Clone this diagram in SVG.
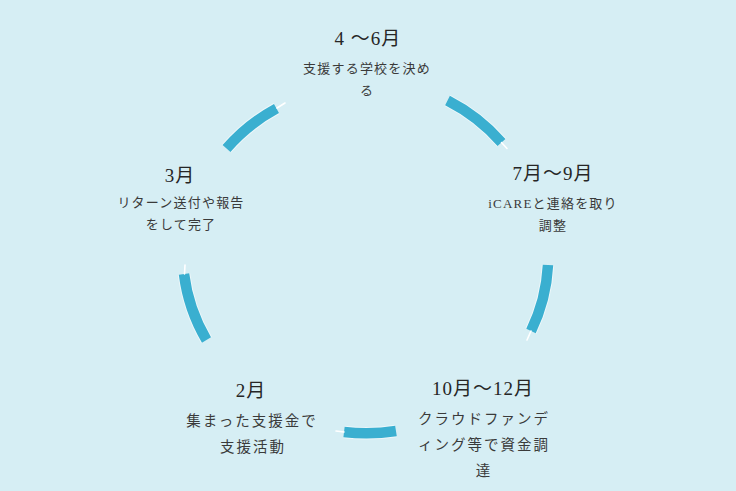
<svg xmlns="http://www.w3.org/2000/svg" width="736" height="491" viewBox="0 0 736 491">
  <style>
    .bg { fill: #D6EEF4; }
    .title { font-family: "Liberation Serif", "Noto Sans CJK JP", serif; font-size: 19px; fill: #262626; text-anchor: middle; letter-spacing: 1px; }
    .sub { font-family: "Liberation Serif", "Noto Sans CJK JP", serif; font-size: 13px; fill: #3a3a3a; text-anchor: middle; letter-spacing: 1.2px; }
    .subL { font-family: "Liberation Serif", "Noto Sans CJK JP", serif; font-size: 14.5px; fill: #3a3a3a; text-anchor: middle; letter-spacing: 2px; }
    .halo { fill: none; stroke: #FFFFFF; stroke-opacity: 0.55; stroke-width: 12.5; }
    .arc { fill: none; stroke: #3AAFD0; stroke-width: 10.5; stroke-linecap: butt; }
    .tick { fill: none; stroke: #FFFFFF; stroke-width: 1.6; stroke-linecap: round; }
  </style>
  <rect class="bg" x="0" y="0" width="736" height="491"/>

  <g id="connectors">
    <g id="c-3-to-4">
      <path class="halo" d="M226.5,148.5 A182,176 0 0 1 276.5,108.5"/>
      <path class="arc" d="M226.5,148.5 A182,176 0 0 1 276.5,108.5"/>
      <line class="tick" x1="277" y1="108" x2="285" y2="103"/>
    </g>
    <g id="c-4-to-7">
      <path class="halo" d="M447.5,100.5 A182,176 0 0 1 501.5,142.5"/>
      <path class="arc" d="M447.5,100.5 A182,176 0 0 1 501.5,142.5"/>
      <line class="tick" x1="501.5" y1="142.5" x2="507" y2="148.5"/>
    </g>
    <g id="c-7-to-10">
      <path class="halo" d="M548,265 A182,176 0 0 1 531,331"/>
      <path class="arc" d="M548,265 A182,176 0 0 1 531,331"/>
      <line class="tick" x1="531" y1="331" x2="527" y2="340"/>
    </g>
    <g id="c-10-to-2">
      <path class="halo" d="M396,431 A182,176 0 0 1 344,432"/>
      <path class="arc" d="M396,431 A182,176 0 0 1 344,432"/>
      <line class="tick" x1="344" y1="432" x2="336" y2="431"/>
    </g>
    <g id="c-2-to-3">
      <path class="halo" d="M206.5,340 A182,176 0 0 1 184,274"/>
      <path class="arc" d="M206.5,340 A182,176 0 0 1 184,274"/>
      <line class="tick" x1="184.5" y1="274" x2="185" y2="265"/>
    </g>
  </g>

  <g id="node-apr-jun">
    <text class="title" x="368" y="45">4 〜6月</text>
    <text class="sub" x="367" y="73">支援する学校を決め</text>
    <text class="sub" x="367" y="95">る</text>
  </g>

  <g id="node-jul-sep">
    <text class="title" x="553" y="180">7月〜9月</text>
    <text class="sub" x="553" y="208">iCAREと連絡を取り</text>
    <text class="sub" x="553" y="230">調整</text>
  </g>

  <g id="node-oct-dec">
    <text class="title" x="483" y="395">10月〜12月</text>
    <text class="subL" x="484" y="424">クラウドファンデ</text>
    <text class="subL" x="484" y="450">ィング等で資金調</text>
    <text class="subL" x="484" y="476">達</text>
  </g>

  <g id="node-feb">
    <text class="title" x="251" y="397">2月</text>
    <text class="subL" x="252" y="426">集まった支援金で</text>
    <text class="subL" x="253" y="452">支援活動</text>
  </g>

  <g id="node-mar">
    <text class="title" x="180" y="182">3月</text>
    <text class="sub" x="181" y="207">リターン送付や報告</text>
    <text class="sub" x="181" y="229">をして完了</text>
  </g>
</svg>
